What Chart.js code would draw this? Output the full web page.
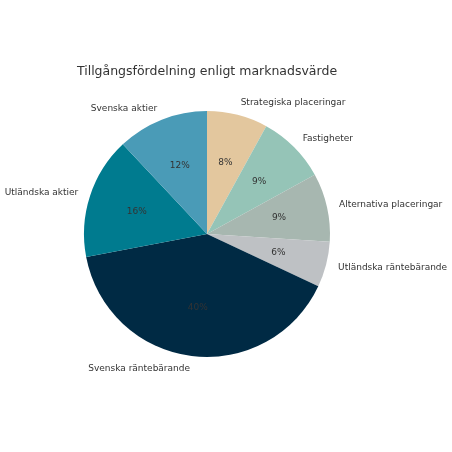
<!DOCTYPE html>
<html>
<head>
<meta charset="utf-8">
<script src="https://cdn.jsdelivr.net/npm/chart.js@4"></script>
<style>
  html, body { margin: 0; padding: 0; background: #fff; }
  #wrap { width: 452px; height: 452px; }
</style>
</head>
<body>
<div id="wrap"><canvas id="c" width="452" height="452"></canvas></div>
<script>
const TITLE = 'Tillgångsfördelning enligt marknadsvärde';
const labels = ['Strategiska placeringar', 'Fastigheter', 'Alternativa placeringar',
  'Utländska räntebärande', 'Svenska räntebärande', 'Utländska aktier', 'Svenska aktier'];
const shares = [8, 9, 9, 6, 40, 16, 12];
const colors = ['#e3c79e', '#95c4b7', '#a7b7b0', '#bec1c4', '#002a44', '#007b8f', '#4a9bb7'];

const FONT = '"DejaVu Sans", sans-serif';
const TEXT = '#333333';

// outside labels at 1.1 r, percentages at 0.6 r (like a matplotlib pie)
const pieText = {
  id: 'pieText',
  afterDraw(chart) {
    const ctx = chart.ctx;
    const arcs = chart.getDatasetMeta(0).data;
    const total = shares.reduce((a, b) => a + b, 0);
    ctx.save();
    ctx.fillStyle = TEXT;
    ctx.textBaseline = 'middle';

    ctx.font = '12.5px ' + FONT;
    ctx.textAlign = 'center';
    ctx.fillText(TITLE, 207, 72);

    arcs.forEach((arc, i) => {
      const mid = (arc.startAngle + arc.endAngle) / 2;
      const r = arc.outerRadius;
      const lx = arc.x + Math.cos(mid) * r * 1.1;
      const ly = arc.y + Math.sin(mid) * r * 1.1;
      ctx.font = '9px ' + FONT;
      ctx.textAlign = lx > arc.x ? 'left' : 'right';
      ctx.fillText(labels[i], lx, ly);

      const px = arc.x + Math.cos(mid) * r * 0.6;
      const py = arc.y + Math.sin(mid) * r * 0.6;
      ctx.textAlign = 'center';
      ctx.fillText(Math.round(shares[i] / total * 100) + '%', px, py);
    });
    ctx.restore();
  }
};

new Chart(document.getElementById('c'), {
  type: 'pie',
  data: {
    labels: labels,
    datasets: [{
      data: shares,
      backgroundColor: colors,
      borderWidth: 0
    }]
  },
  options: {
    responsive: false,
    animation: false,
    layout: { padding: { left: 84, right: 122, top: 111, bottom: 95 } },
    plugins: {
      legend: { display: false },
      tooltip: { enabled: false }
    }
  },
  plugins: [pieText]
});
</script>
</body>
</html>
